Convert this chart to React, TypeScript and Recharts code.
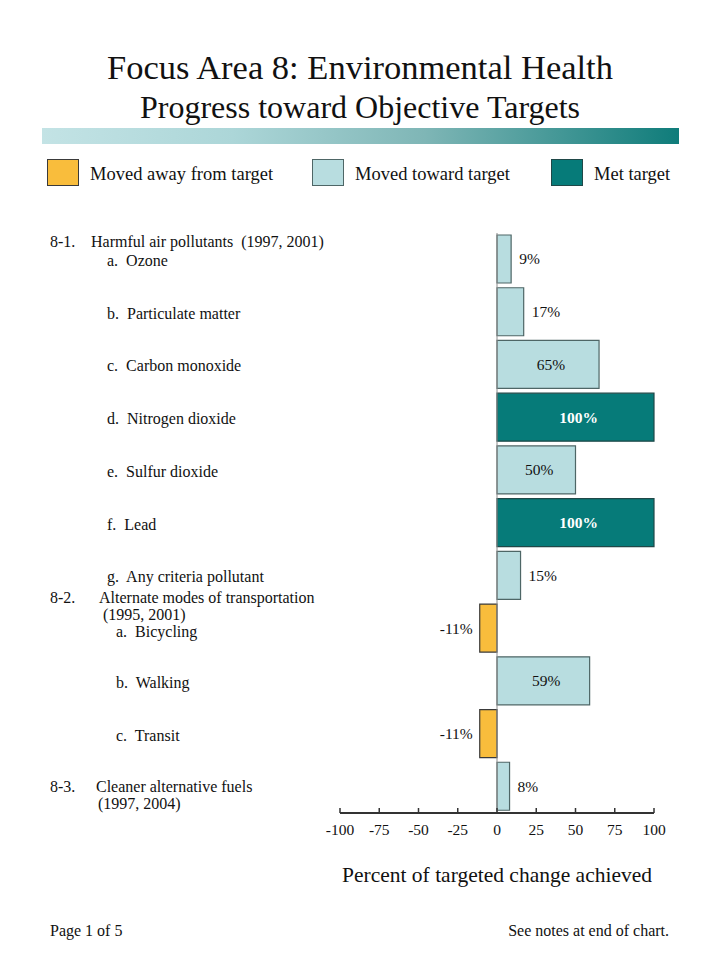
import React from 'react';
import { Bar, BarChart, Cell, LabelList, ReferenceLine, XAxis, YAxis } from 'recharts';

// rows, top to bottom
const itemLetters = ['a.', 'b.', 'c.', 'd.', 'e.', 'f.', 'g.', 'a.', 'b.', 'c.', ''];
const categories = [
  'Ozone',
  'Particulate matter',
  'Carbon monoxide',
  'Nitrogen dioxide',
  'Sulfur dioxide',
  'Lead',
  'Any criteria pollutant',
  'Bicycling',
  'Walking',
  'Transit',
  'Cleaner alternative fuels',
];
const percentChange = [9, 17, 65, 100, 50, 100, 15, -11, 59, -11, 8];
const statuses = ['toward', 'toward', 'toward', 'met', 'toward', 'met', 'toward', 'away', 'toward', 'away', 'toward'];

const groupCodes = ['8-1.', '8-2.', '8-3.'];
const groupTitles = ['Harmful air pollutants  (1997, 2001)', 'Alternate modes of transportation', 'Cleaner alternative fuels'];
const groupYears = ['', '(1995, 2001)', '(1997, 2004)'];

const xTicks = [-100, -75, -50, -25, 0, 25, 50, 75, 100];

const legendItems = [
  { key: 'away', label: 'Moved away from target' },
  { key: 'toward', label: 'Moved toward target' },
  { key: 'met', label: 'Met target' },
];

const FILL: Record<string, string> = { away: '#f9bd3c', toward: '#b8dde0', met: '#067b79' };
const EDGE: Record<string, string> = { away: '#3a3a3a', toward: '#4e6666', met: '#1f4848' };
const FONT = "'Liberation Serif', 'Times New Roman', serif";

const rows = categories.map((name, i) => ({
  name,
  value: percentChange[i],
  status: statuses[i],
}));

const RowTick = ({ y, payload }: any) => {
  const i = categories.indexOf(payload.value);
  const t = { fontFamily: FONT, fontSize: 16, fill: '#111', style: { whiteSpace: 'pre' as const } };
  if (i === categories.length - 1) {
    return (
      <g>
        <text x={50} y={y} dy="0.35em" {...t}>{groupCodes[2]}</text>
        <text x={96} y={y} dy="0.35em" {...t}>{groupTitles[2]}</text>
        <text x={98} y={y + 17} dy="0.35em" {...t}>{groupYears[2]}</text>
      </g>
    );
  }
  const indent = i >= 7 ? 116 : 107;
  const dy = i === 7 ? 3 : 1;
  return (
    <g>
      {i === 0 && (
        <>
          <text x={50} y={y - 18} dy="0.35em" {...t}>{groupCodes[0]}</text>
          <text x={91} y={y - 18} dy="0.35em" {...t}>{groupTitles[0]}</text>
        </>
      )}
      {i === 7 && (
        <>
          <text x={50} y={y - 31} dy="0.35em" {...t}>{groupCodes[1]}</text>
          <text x={99} y={y - 31} dy="0.35em" {...t}>{groupTitles[1]}</text>
          <text x={103} y={y - 14} dy="0.35em" {...t}>{groupYears[1]}</text>
        </>
      )}
      <text x={indent} y={y + dy} dy="0.35em" {...t}>{`${itemLetters[i]}  ${payload.value}`}</text>
    </g>
  );
};

const PctTick = ({ x, y, payload }: any) => (
  <g>
    <line x1={x} x2={x} y1={y} y2={y - 5} stroke="#333" strokeWidth={1.5} />
    <text x={x} y={y + 17} dy="0.35em" textAnchor="middle" fontFamily={FONT} fontSize={15.5} fill="#111">
      {payload.value}
    </text>
  </g>
);

const ValueLabel = ({ x, y, width, height, value, index }: any) => {
  const left = Math.min(x, x + width);
  const right = Math.max(x, x + width);
  const cy = y + height / 2;
  const met = statuses[index] === 'met';
  const common = {
    y: cy,
    dy: '0.35em',
    fontFamily: FONT,
    fontSize: 15.5,
    fill: met ? '#ffffff' : '#111',
    fontWeight: met ? 700 : 400,
  };
  if (value < 0) {
    return <text x={left - 7} textAnchor="end" {...common}>{`${value}%`}</text>;
  }
  if (value >= 50) {
    return <text x={(left + right) / 2 + 3} textAnchor="middle" {...common}>{`${value}%`}</text>;
  }
  return <text x={right + 8} textAnchor="start" {...common}>{`${value}%`}</text>;
};

const abs = (s: React.CSSProperties): React.CSSProperties => ({ position: 'absolute', fontFamily: FONT, color: '#111', ...s });

export default function App() {
  return (
    <div style={{ position: 'relative', width: 720, height: 960, background: '#fff', overflow: 'hidden' }}>
      <style>{`body{margin:0}`}</style>

      <div style={abs({ top: 46, left: 0, width: 720, textAlign: 'center', fontSize: 34.5, lineHeight: '42px', whiteSpace: 'nowrap' })}>
        Focus Area 8: Environmental Health
      </div>
      <div style={abs({ top: 89, left: 0, width: 720, textAlign: 'center', fontSize: 32, lineHeight: '36px', whiteSpace: 'nowrap' })}>
        Progress toward Objective Targets
      </div>
      <div
        style={abs({
          top: 128, left: 42, width: 637, height: 16,
          background: 'linear-gradient(to right, #c3e3e5 0%, #acd6d8 30%, #7fb6b6 60%, #0f7c7a 100%)',
        })}
      />

      {legendItems.map((item, i) => {
        const boxX = [47, 312, 551][i];
        return (
          <React.Fragment key={item.key}>
            <div
              style={abs({
                top: 159, left: boxX, width: 30, height: 25,
                background: FILL[item.key], border: `1.5px solid ${EDGE[item.key]}`,
              })}
            />
            <div style={abs({ top: 163, left: boxX + 43, fontSize: 18.5, lineHeight: '22px', whiteSpace: 'nowrap' })}>
              {item.label}
            </div>
          </React.Fragment>
        );
      })}

      <BarChart
        width={720}
        height={960}
        data={rows}
        layout="vertical"
        margin={{ top: 233, right: 66, bottom: 117, left: 40 }}
        barSize={48}
      >
        <XAxis
          type="number"
          domain={[-100, 100]}
          ticks={xTicks}
          height={30}
          axisLine={{ stroke: '#333', strokeWidth: 2 }}
          tickLine={false}
          tickSize={0}
          tickMargin={0}
          tick={<PctTick />}
          interval={0}
        />
        <YAxis
          type="category"
          dataKey="name"
          width={300}
          axisLine={false}
          tickLine={false}
          tick={<RowTick />}
          interval={0}
        />
        <ReferenceLine x={0} stroke="#8a8a8a" strokeWidth={1} />
        <Bar dataKey="value" isAnimationActive={false} strokeWidth={1.2}>
          {rows.map((r, i) => (
            <Cell key={i} fill={FILL[r.status]} stroke={EDGE[r.status]} />
          ))}
          <LabelList dataKey="value" content={<ValueLabel />} />
        </Bar>
      </BarChart>

      <div style={abs({ top: 862, left: 340, width: 314, textAlign: 'center', fontSize: 21.5, lineHeight: '26px', whiteSpace: 'nowrap' })}>
        Percent of targeted change achieved
      </div>
      <div style={abs({ top: 921, left: 50, fontSize: 16, lineHeight: '20px' })}>Page 1 of 5</div>
      <div style={abs({ top: 921, right: 51, fontSize: 16, lineHeight: '20px' })}>See notes at end of chart.</div>
    </div>
  );
}
